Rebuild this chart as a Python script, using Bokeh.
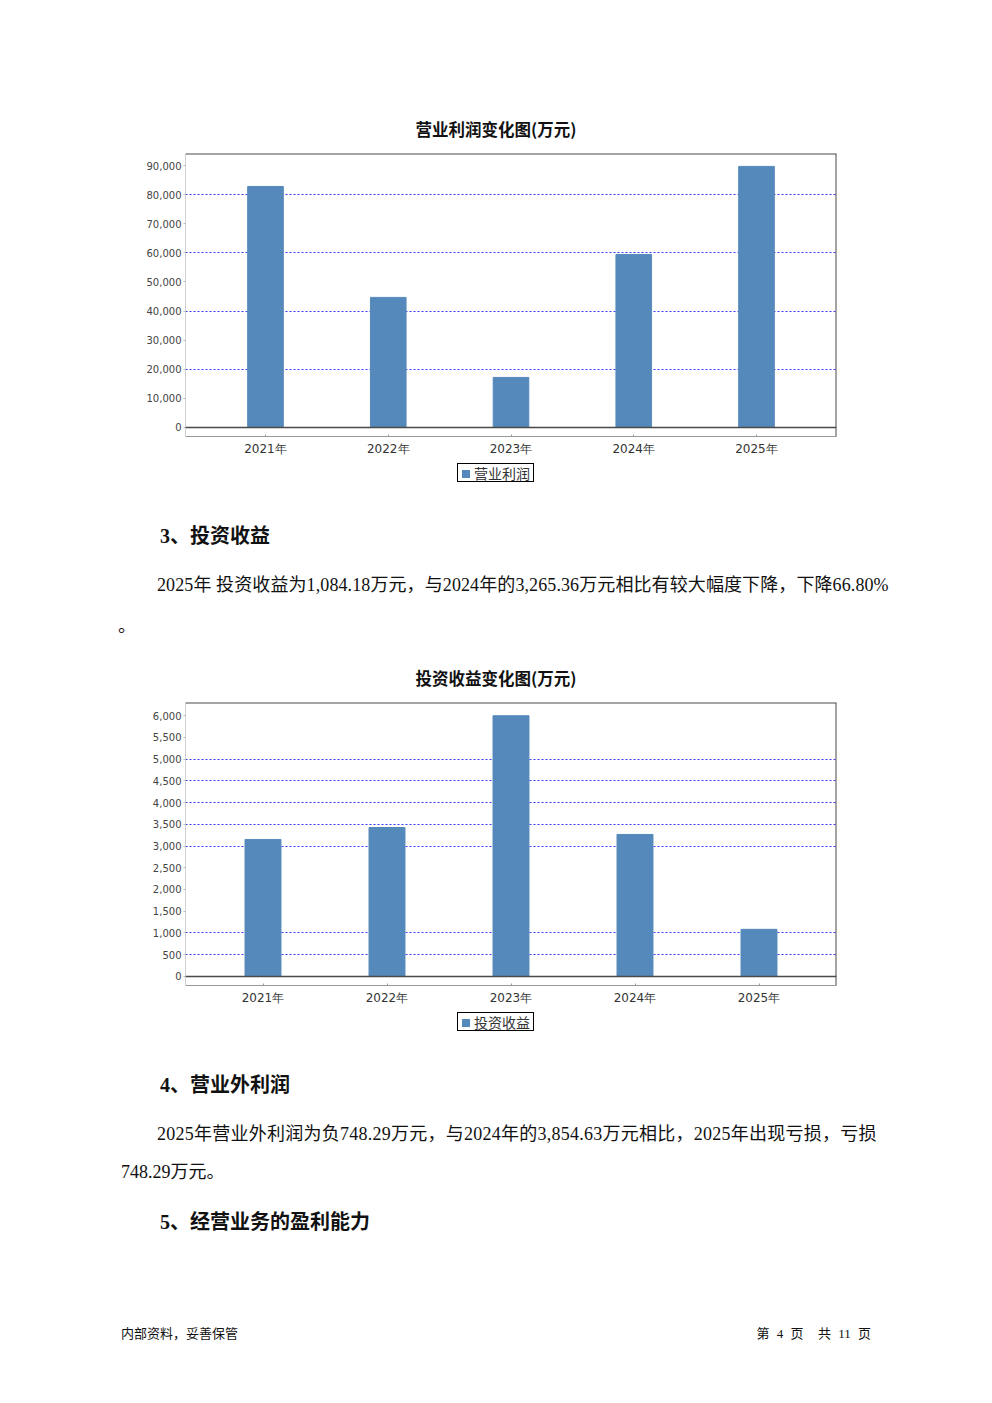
from bokeh.plotting import figure
from bokeh.layouts import column
from bokeh.models import (Range1d, FactorRange, FixedTicker, NumeralTickFormatter, Div,
                          Span, ColumnDataSource)
from bokeh.embed import file_html
from bokeh.resources import INLINE

# ---------------- data ----------------
years = ["2021年", "2022年", "2023年", "2024年", "2025年"]
op_profit = [82800, 44700, 17200, 59450, 89700]          # 营业利润 (万元)
inv_income = [3150, 3425, 5995, 3265.36, 1084.18]        # 投资收益 (万元)
op_ticks = [0, 10000, 20000, 30000, 40000, 50000, 60000, 70000, 80000, 90000]
op_grid = [20000, 40000, 60000, 80000]
inv_ticks = [0, 500, 1000, 1500, 2000, 2500, 3000, 3500, 4000, 4500, 5000, 5500, 6000]
inv_grid = [500, 1000, 3000, 3500, 4000, 4500, 5000]

W = 990
BAR = "#5589BB"
FRAME = "#4a4a4a"
CJK = "'Noto Sans CJK SC'"
MIX = "'Liberation Serif', 'Noto Sans CJK SC'"
LEFT, FW = 185, 651


def chart(vals, ticks, grid, ytop, ybot, pad, h, btop, bbot):
    p = figure(width=W, height=h, output_backend="svg", toolbar_location=None,
               x_range=FactorRange(*years, range_padding=pad, range_padding_units="percent"),
               y_range=Range1d(ybot, ytop),
               min_border_left=LEFT, min_border_right=W - LEFT - FW,
               min_border_top=btop, min_border_bottom=bbot)
    p.outline_line_color = None
    p.xgrid.grid_line_color = None
    p.ygrid.ticker = FixedTicker(ticks=grid)
    p.ygrid.grid_line_color = "#3636ff"
    p.ygrid.grid_line_dash = "2 2"
    p.ygrid.grid_line_width = 1
    src = ColumnDataSource(dict(x=years, top=vals))
    p.vbar(x="x", top="top", bottom=0, width=0.29, source=src,
           fill_color=BAR, line_color=BAR)
    # plot-area border: zero line, top edge, right edge
    x_end = len(years) * (1 + pad / 2)
    p.add_layout(Span(location=0, dimension="width", line_color=FRAME, line_width=1.3))
    p.add_layout(Span(location=ytop, dimension="width", line_color=FRAME, line_width=2))
    p.add_layout(Span(location=x_end, dimension="height", line_color=FRAME, line_width=2))
    ya = p.yaxis[0]
    ya.ticker = FixedTicker(ticks=ticks)
    ya.formatter = NumeralTickFormatter(format="0,0")
    ya.axis_line_color = "#d0d0d0"
    ya.major_tick_line_color = "#bbbbbb"
    ya.major_tick_out = 2
    ya.major_tick_in = 0
    ya.minor_tick_line_color = None
    ya.major_label_text_font = "DejaVu Sans"
    ya.major_label_text_font_size = "10px"
    ya.major_label_text_color = "#444444"
    ya.major_label_standoff = 2
    xa = p.xaxis[0]
    xa.axis_line_color = "#999999"
    xa.major_tick_line_color = "#999999"
    xa.major_tick_out = 0
    xa.major_tick_in = 2
    xa.minor_tick_line_color = None
    xa.major_label_text_font = "DejaVu Sans"
    xa.major_label_text_font_size = "12px"
    xa.major_label_text_color = "#333333"
    xa.major_label_standoff = 5
    return p


def span(x, y, text, size, bold=False, align="left", font=MIX, extra=""):
    weight = "bold" if bold else "normal"
    if align == "left":
        pos = f"left:{x}px;"
    elif align == "right":
        pos = f"right:{W - x}px;"
    else:
        pos = f"left:{x - 300}px;width:600px;text-align:center;"
    return (f"<div style=\"position:absolute;{pos}top:{y - size / 2:.1f}px;"
            f"font-family:{font};font-size:{size}px;font-weight:{weight};"
            f"line-height:{size}px;white-space:pre;color:#111;{extra}\">{text}</div>")


def legend_box(x, y, label):
    return (f"<div style=\"position:absolute;left:{x}px;top:{y}px;width:77px;height:19px;"
            f"border:1px solid #000;background:#fff;\">"
            f"<div style=\"position:absolute;left:4px;top:6px;width:8px;height:8px;"
            f"background:{BAR};\"></div>"
            f"<div style=\"position:absolute;left:16px;top:0px;font-family:{CJK};"
            f"font-size:14px;line-height:19px;color:#333;white-space:pre;\">{label}</div></div>")


def block(h, parts):
    html = (f"<div style=\"position:relative;width:{W}px;height:{h}px;overflow:hidden;\">"
            + "".join(parts) + "</div>")
    return Div(text=html, width=W, height=h, margin=0)


d0 = block(145, [span(496, 129, "营业利润变化图(万元)", 16.5, True, "center", CJK)])
c1 = chart(op_profit, op_ticks, op_grid, 94125, -3092, 0.0607, 317, 8, 26)
d1 = block(235, [
    legend_box(457, 1, "营业利润"),
    span(160, 74, "3、投资收益", 20, True),
    span(157, 123, "2025年 投资收益为1,084.18万元，与2024年的3,265.36万元相比有较大幅度下降，下降66.80%",
         18, extra="letter-spacing:0.1px;"),
    span(118, 164, "。", 18),
    span(496, 216, "投资收益变化图(万元)", 16.5, True, "center", CJK),
])
c2 = chart(inv_income, inv_ticks, inv_grid, 6299, -207, 0.05, 314, 5, 26)
d2 = block(389, [
    legend_box(457, 1, "投资收益"),
    span(160, 74, "4、营业外利润", 20, True),
    span(157, 123, "2025年营业外利润为负748.29万元，与2024年的3,854.63万元相比，2025年出现亏损，亏损",
         18, extra="letter-spacing:0.25px;"),
    span(121, 161, "748.29万元。", 18),
    span(160, 211, "5、经营业务的盈利能力", 20, True),
    span(121, 322, "内部资料，妥善保管", 13),
    span(871, 322, "第 4 页  共 11 页", 13, align="right", extra="word-spacing:4px;"),
])

page = column(d0, c1, d1, c2, d2, spacing=0)
open("out.html", "w").write(file_html(page, INLINE))
